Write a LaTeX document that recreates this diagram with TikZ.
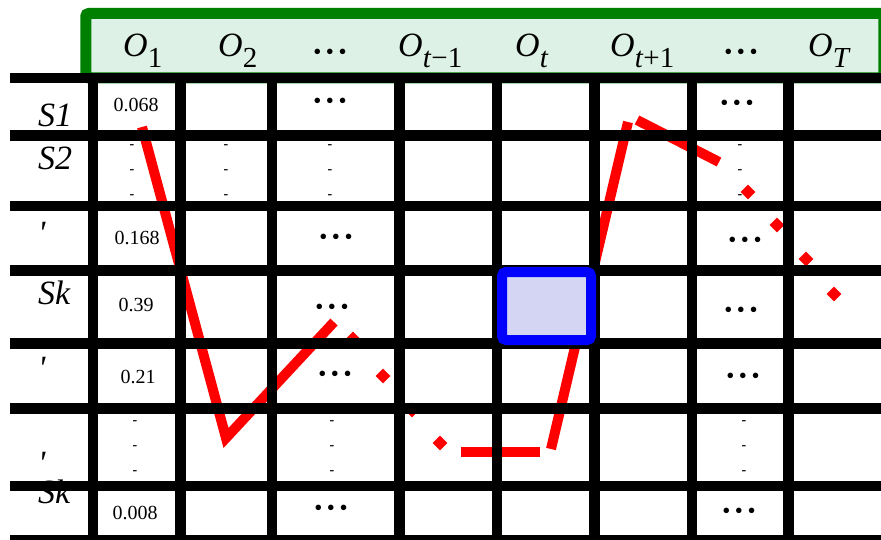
\documentclass[tikz,border=0pt]{standalone}
\usepackage{fontspec}
\setmainfont{Liberation Serif}
\usetikzlibrary{shapes.geometric}
\definecolor{bandline}{RGB}{0,128,0}
\definecolor{bandfill}{RGB}{221,241,230}
\definecolor{selfill}{RGB}{212,212,243}
\newcommand{\obsv}[1]{\textit{O}\raisebox{-11pt}{\fontsize{29}{29}\selectfont #1}}
\newcommand{\celldots}{\textbullet\hspace{4.5pt}\textbullet\hspace{4.5pt}\textbullet}

\begin{document}
\begin{tikzpicture}[
  x=1pt,y=-1pt,
  band/.style={draw=bandline,line width=11pt,fill=bandfill,rounded corners=3pt,
    minimum width=798pt,minimum height=64.5pt,inner sep=0pt},
  hdr/.style={anchor=base west,inner sep=0pt,font=\fontsize{34}{36}\selectfont},
  lbl/.style={anchor=base west,inner sep=0pt,font=\fontsize{34}{36}\selectfont\itshape},
  num/.style={inner sep=0pt,font=\fontsize{20}{22}\selectfont},
  hdots/.style={inner sep=0pt,font=\fontsize{23}{24}\selectfont},
  dashcol/.style={inner sep=0pt,align=center,font=\fontsize{14}{25}\selectfont\bfseries},
  trail/.style={draw=red,line width=10pt},
  dmark/.style={diamond,fill=red,inner sep=0pt,minimum size=15pt},
  gridline/.style={draw=black,line width=10.5pt},
  selbox/.style={draw=blue,line width=10pt,fill=selfill,rounded corners=4pt,
    minimum width=89pt,minimum height=68pt,inner sep=0pt}
]
\useasboundingbox (0,0) rectangle (881,540);
\node[band] (obsband) at (484.75,45.75) {};
\node[hdr] (o1) at (123,57) {\obsv{1}};
\node[hdr] (o2) at (218,57) {\obsv{2}};
\node[hdots] (odotsa) at (330,54) {\celldots};
\node[hdr] (otm) at (398,57) {\obsv{\textit{t}−1}};
\node[hdr] (ot) at (515,57) {\obsv{\textit{t}}};
\node[hdr] (otp) at (610,57) {\obsv{\textit{t}+1}};
\node[hdots] (odotsb) at (741,54) {\celldots};
\node[hdr] (oT) at (808,57) {\obsv{\textit{T}}};
\node[lbl] (s1) at (38,127) {S1};
\node[lbl] (s2) at (38,170) {S2};
\node[lbl] (rc) at (38,245) {\textquotesingle};
\node[lbl] (sk) at (38,305) {Sk};
\node[lbl] (re) at (38,379) {\textquotesingle};
\node[lbl] (rf) at (38,474) {\textquotesingle};
\node[lbl] (skl) at (38,503) {Sk};
\node[num] (v1) at (136,105) {0.068};
\node[num] (v3) at (137,238) {0.168};
\node[num] (v4) at (136,305) {0.39};
\node[num] (v5) at (138,377) {0.21};
\node[num] (v8) at (135,513) {0.008};
\node[dashcol] (da) at (132,172) {-\\-\\-};
\node[dashcol] (db) at (226,172) {-\\-\\-};
\node[dashcol] (dc) at (330,172) {-\\-\\-};
\node[dashcol] (dd) at (740,172) {-\\-\\-};
\node[dashcol] (de) at (135,448) {-\\-\\-};
\node[dashcol] (df) at (332,448) {-\\-\\-};
\node[dashcol] (dg) at (744,448) {-\\-\\-};
\node[hdots] (ca) at (330,103) {\celldots};
\node[hdots] (cb) at (336,239) {\celldots};
\node[hdots] (cc) at (332,309) {\celldots};
\node[hdots] (cd) at (335,376) {\celldots};
\node[hdots] (ce) at (331,510) {\celldots};
\node[hdots] (cf) at (737,105) {\celldots};
\node[hdots] (cg) at (745,242) {\celldots};
\node[hdots] (ch) at (741,312) {\celldots};
\node[hdots] (ci) at (743,378) {\celldots};
\node[hdots] (cj) at (739,513) {\celldots};
\coordinate (p1) at (142,127);
\coordinate (p2) at (226,438);
\coordinate (p3) at (334,322);
\coordinate (p4) at (461,452);
\coordinate (p5) at (540,452);
\coordinate (p6) at (551,449);
\coordinate (p7) at (628,122);
\coordinate (p8) at (637,120);
\coordinate (p9) at (719,162);
\draw[trail] (p1) -- (p2) -- (p3);
\draw[trail] (p4) -- (p5);
\draw[trail] (p6) -- (p7);
\draw[trail] (p8) -- (p9);
\node[dmark] (ma) at (353,339) {};
\node[dmark] (mb) at (383,376) {};
\node[dmark] (mc) at (412,410) {};
\node[dmark] (md) at (440,443) {};
\node[dmark] (me) at (748,192) {};
\node[dmark] (mf) at (777,225) {};
\node[dmark] (mg) at (806,259) {};
\node[dmark] (mh) at (834,294) {};
\draw[gridline] (10,78) -- (886,78);
\draw[gridline] (10,135.5) -- (886,135.5);
\draw[gridline] (10,206) -- (886,206);
\draw[gridline] (10,270.5) -- (886,270.5);
\draw[gridline] (10,343.5) -- (886,343.5);
\draw[gridline] (10,408.5) -- (886,408.5);
\draw[gridline] (10,486) -- (886,486);
\draw[gridline] (10,540) -- (886,540);
\draw[gridline] (93,73) -- (93,545);
\draw[gridline] (180.5,73) -- (180.5,545);
\draw[gridline] (272,73) -- (272,545);
\draw[gridline] (399.5,73) -- (399.5,545);
\draw[gridline] (497,73) -- (497,545);
\draw[gridline] (594.5,73) -- (594.5,545);
\draw[gridline] (692,73) -- (692,545);
\draw[gridline] (788.5,73) -- (788.5,545);
\node[selbox] (sel) at (546.5,306) {};
\end{tikzpicture}
\end{document}
